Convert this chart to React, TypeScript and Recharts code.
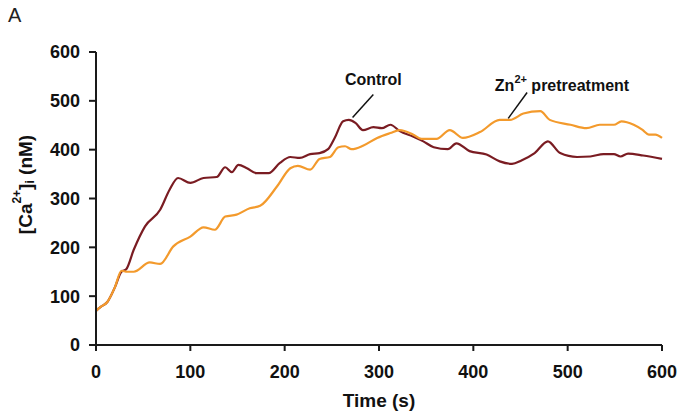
import React from "react";
import {
  LineChart,
  Line,
  XAxis,
  YAxis,
  ReferenceLine,
  ReferenceDot,
  Label,
} from "recharts";

// ── data ──

const controlTime = [
  0, 5, 12, 20, 27, 32, 40, 52, 68, 78, 87, 100, 114, 128, 137, 144, 151, 160, 170, 183,
  195, 206, 216, 227, 237, 246, 253, 262, 268, 275, 283, 294, 303, 312, 322, 336, 347, 358,
  373, 382, 396, 414, 428, 441, 451, 465, 479, 492, 510, 524, 538, 549, 556, 564, 580, 600,
];
const controlCa = [
  70, 78, 88, 118, 150, 155, 195, 243, 277, 318, 342, 332, 342, 344, 364, 354, 369, 362, 352, 352,
  373, 385, 383, 391, 393, 401, 424, 458, 461, 455, 440, 446, 444, 451, 438, 427, 417, 405,
  401, 413, 397, 390, 376, 371, 378, 393, 417, 393, 385, 386, 391, 391, 386, 392, 388, 381,
];

const zincTime = [
  0, 5, 12, 20, 27, 33, 40, 57, 68, 82, 100, 114, 126, 137, 149, 163, 174, 192, 206, 214,
  227, 237, 248, 257, 264, 271, 283, 298, 312, 322, 336, 345, 361, 375, 389, 407, 428, 439,
  453, 471, 481, 503, 520, 534, 549, 557, 570, 579, 586, 593, 600,
];
const zincCa = [
  70, 78, 88, 118, 152, 150, 150, 169, 166, 202, 222, 241, 236, 263, 267, 280, 285, 325, 362, 367,
  359, 381, 385, 405, 407, 401, 408, 424, 434, 440, 431, 422, 422, 440, 424, 436, 461, 461,
  474, 479, 461, 451, 444, 451, 451, 458, 451, 441, 431, 431, 424,
];

const xTicks = [0, 100, 200, 300, 400, 500, 600];
const yTicks = [0, 100, 200, 300, 400, 500, 600];

const controlData = controlTime.map((t, i) => ({ t, v: controlCa[i] }));
const zincData = zincTime.map((t, i) => ({ t, v: zincCa[i] }));

// ── styles ──

const FONT = "'Liberation Sans', Arial, Helvetica, sans-serif";
const AXIS = "#1a1a1a";
const CONTROL_COLOR = "#7a1c22";
const ZINC_COLOR = "#f39a2c";
const tickStyle = { fontSize: 18, fontWeight: 700, fill: "#111", fontFamily: FONT };

function YTitle({ viewBox }: { viewBox?: { x: number; y: number; width: number; height: number } }) {
  const cx = 25;
  const cy = (viewBox?.y ?? 52) + (viewBox?.height ?? 293) / 2 - 14;
  return (
    <text
      x={cx}
      y={cy}
      transform={`rotate(-90 ${cx} ${cy})`}
      textAnchor="middle"
      dominantBaseline="central"
      fontFamily={FONT}
      fontWeight={700}
      fontSize={19}
      fill="#111"
    >
      <tspan>[Ca</tspan>
      <tspan dy={-8} fontSize={12}>2+</tspan>
      <tspan dy={8}>]</tspan>
      <tspan dy={5} fontSize={12}>i</tspan>
      <tspan dy={-5}> (nM)</tspan>
    </text>
  );
}

function XTitle({ viewBox }: { viewBox?: { x: number; y: number; width: number; height: number } }) {
  const x = (viewBox?.x ?? 96) + (viewBox?.width ?? 566) / 2;
  const y = (viewBox?.y ?? 345) + 62;
  return (
    <text x={x} y={y} textAnchor="middle" fontFamily={FONT} fontWeight={700} fontSize={19} fill="#111">
      Time (s)
    </text>
  );
}

function ControlTag(props: { cx?: number; cy?: number }) {
  return (
    <text x={props.cx} y={props.cy} textAnchor="middle" dominantBaseline="central" fontFamily={FONT} fontWeight={700} fontSize={16} fill="#111">
      Control
    </text>
  );
}

function ZincTag(props: { cx?: number; cy?: number }) {
  return (
    <text x={props.cx} y={props.cy} textAnchor="middle" dominantBaseline="central" fontFamily={FONT} fontWeight={700} fontSize={16} fill="#111">
      <tspan>Zn</tspan>
      <tspan dy={-6} fontSize={11}>2+</tspan>
      <tspan dy={6}> pretreatment</tspan>
    </text>
  );
}

export default function App() {
  return (
    <div style={{ position: "absolute", left: 0, top: 0, width: 678, height: 417, background: "#fff" }}>
      <div style={{ position: "absolute", left: 8, top: 4, fontFamily: FONT, fontSize: 20, color: "#222" }}>A</div>
      <LineChart
        width={678}
        height={417}
        margin={{ top: 52, right: 16, bottom: 7, left: 36 }}
        style={{ fontFamily: FONT }}
      >
        <XAxis
          dataKey="t"
          type="number"
          domain={[0, 600]}
          ticks={xTicks}
          allowDuplicatedCategory={false}
          stroke={AXIS}
          strokeWidth={2}
          tickSize={6}
          tickMargin={14}
          tick={tickStyle}
          height={65}
        >
          <Label content={<XTitle />} />
        </XAxis>
        <YAxis
          dataKey="v"
          type="number"
          domain={[0, 600]}
          ticks={yTicks}
          stroke={AXIS}
          strokeWidth={2}
          tickSize={7}
          tickMargin={9}
          tick={tickStyle}
          width={60}
        >
          <Label content={<YTitle />} />
        </YAxis>

        <Line
          data={controlData}
          dataKey="v"
          type="monotone"
          stroke={CONTROL_COLOR}
          strokeWidth={2.2}
          dot={false}
          isAnimationActive={false}
        />
        <Line
          data={zincData}
          dataKey="v"
          type="monotone"
          stroke={ZINC_COLOR}
          strokeWidth={2.2}
          dot={false}
          isAnimationActive={false}
        />

        {/* leader lines + labels */}
        <ReferenceLine segment={[{ x: 294, y: 513 }, { x: 272, y: 466 }]} stroke="#111" strokeWidth={1.5} />
        <ReferenceLine segment={[{ x: 457, y: 517 }, { x: 437, y: 464 }]} stroke="#111" strokeWidth={1.5} />
        <ReferenceDot x={294} y={544} r={0} shape={<ControlTag />} />
        <ReferenceDot x={494} y={533} r={0} shape={<ZincTag />} />
      </LineChart>
    </div>
  );
}
